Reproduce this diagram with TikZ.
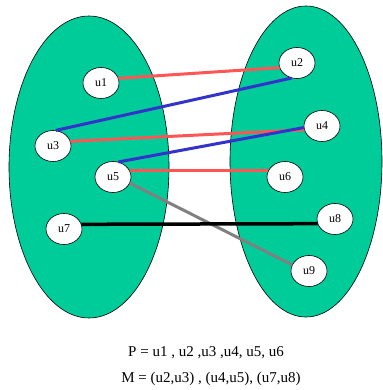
\documentclass[tikz,border=0pt]{standalone}
\usepackage{fontspec}
\setmainfont{Liberation Serif}
\usetikzlibrary{shapes.geometric}
\definecolor{setgreen}{HTML}{00CC99}
\definecolor{mred}{HTML}{FF5555}
\definecolor{mblue}{HTML}{3333CC}
\definecolor{mgray}{HTML}{808080}
\tikzset{
  setblob/.style={draw=black, line width=0.6pt, fill=setgreen, ellipse, inner sep=0pt},
  vert/.style={draw=black, line width=0.6pt, fill=white, ellipse, minimum width=36pt, minimum height=31pt, inner sep=0pt, font=\fontsize{12}{14}\selectfont},
  redge/.style={mred, line width=3pt},
  bedge/.style={mblue, line width=3pt},
  gedge/.style={mgray, line width=3pt},
  kedge/.style={black, line width=3.5pt},
  caption/.style={font=\fontsize{15}{18}\selectfont, inner sep=0pt}
}
\begin{document}
\begin{tikzpicture}[x=1pt,y=-1pt]
\useasboundingbox (0,0) rectangle (382,390);
\node[setblob, minimum width=160pt, minimum height=302pt] (L) at (89,167) {};
\node[setblob, minimum width=152pt, minimum height=311pt] (R) at (306,161.5) {};
\node[vert] (u1) at (101,83) {u1};
\node[vert] (u3) at (53,146) {u3};
\node[vert] (u5) at (113,177) {u5};
\node[vert] (u7) at (64,229) {u7};
\node[vert] (u2) at (297,63) {u2};
\node[vert] (u4) at (322,126) {u4};
\node[vert] (u6) at (285,177) {u6};
\node[vert] (u8) at (335,219) {u8};
\node[vert] (u9) at (309,271) {u9};
\draw[redge] (u1.15) -- (u2.195);
\draw[bedge] (u3.80) -- (u2.250);
\draw[redge] (u3.15) -- (u4.192);
\draw[bedge] (u5.70) -- (u4.185);
\draw[redge] (u5.20) -- (u6.160);
\draw[gedge] (u5.-20) -- (u9.160);
\draw[kedge] (u7.15) -- (u8.195);
\node[caption] (P) at (206,353) {P = u1 , u2 ,u3 ,u4, u5, u6};
\node[caption] (M) at (211,379) {M = (u2,u3) , (u4,u5), (u7,u8)};
\end{tikzpicture}
\end{document}
